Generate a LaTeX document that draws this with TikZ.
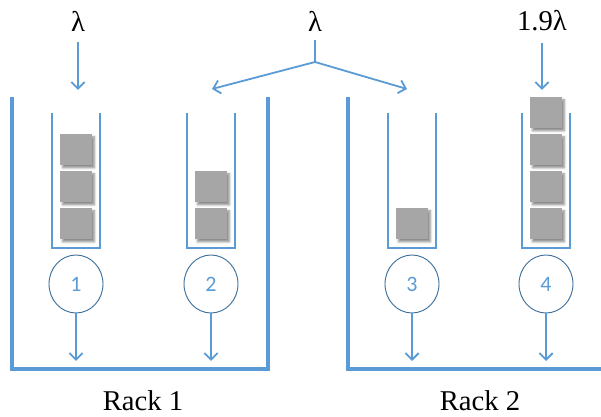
\documentclass[tikz,border=0pt]{standalone}
\usepackage{fontspec}
\setmainfont{Liberation Serif}
\newfontfamily\numfont{Carlito}
\usetikzlibrary{arrows.meta, positioning, shapes.geometric, shadows.blur}

\definecolor{rackblue}{RGB}{91,155,213}
\definecolor{ringblue}{RGB}{65,113,156}
\definecolor{jobgray}{RGB}{166,166,166}

\tikzset{
  rackwall/.style={draw=rackblue, line width=2.8pt},
  queuewall/.style={draw=rackblue, line width=1.9pt},
  flow/.style={draw=rackblue, line width=1.35pt, -{Straight Barb[length=5pt,width=10pt]}},
  server/.style={ellipse, draw=ringblue, line width=0.7pt, minimum width=40.5pt, minimum height=43.5pt,
    inner sep=0pt, text=rackblue, font=\numfont\fontsize{16.5}{18}\selectfont},
  job/.style={fill=jobgray, minimum width=24pt, minimum height=23.25pt, inner sep=0pt,
    blur shadow={shadow xshift=1.8pt, shadow yshift=-1.8pt, shadow blur radius=1.6pt, shadow opacity=45}},
  rate/.style={inner sep=0.75pt, font=\fontsize{21.5}{24}\selectfont},
  rack/.style={inner sep=0.75pt, font=\fontsize{21.5}{24}\selectfont},
}

\begin{document}
\begin{tikzpicture}[x=0.75pt,y=0.75pt,yscale=-1,xscale=1]
	\useasboundingbox (0,0) rectangle (601,417);

	% racks
	\draw [rackwall] (12,97) |- (268,369) -- (268,97);
	\draw [rackwall] (348,97) |- (603,369);

	% queues, waiting jobs, servers and departures
	\foreach \i/\x/\n in {1/76/3, 2/211/2, 3/412/1, 4/546/4} {
		\draw [queuewall] (\x-24,113) |- (\x+24,248) -- (\x+24,113);
		\foreach \k in {1,...,\n}
			\node [job] (job\i-\k) at (\x,{224-37*(\k-1)}) {};
		\node [server] (s\i) at (\x,284) {\i};
		\coordinate (out\i) at (\x,361);
		\draw [flow] (s\i.south) -- (out\i);
	}

	% arrival rates
	\node [rate] (lam1) at (78,21) {λ};
	\node [rate] (lam2) at (315,21) {λ};
	\node [rate] (lam4) at (542,21) {1.9λ};

	\coordinate (in1) at (78,90);
	\coordinate (split) at (315,62);
	\coordinate (in2) at (212,89);
	\coordinate (in3) at (407,89);
	\coordinate (in4) at (542,90);

	\draw [flow, shorten <=7.5pt] (lam1.south) -- (in1);
	\draw [flow, shorten <=7.5pt] (lam4.south) -- (in4);
	\draw [rackblue, line width=1.35pt, shorten <=5.5pt] (lam2.south) -- (split);
	\draw [flow] (split) -- (in2);
	\draw [flow] (split) -- (in3);

	% rack names
	\node [rack] (rack1) at (143,401) {Rack 1};
	\node [rack] (rack2) at (480,401) {Rack 2};
\end{tikzpicture}
\end{document}
